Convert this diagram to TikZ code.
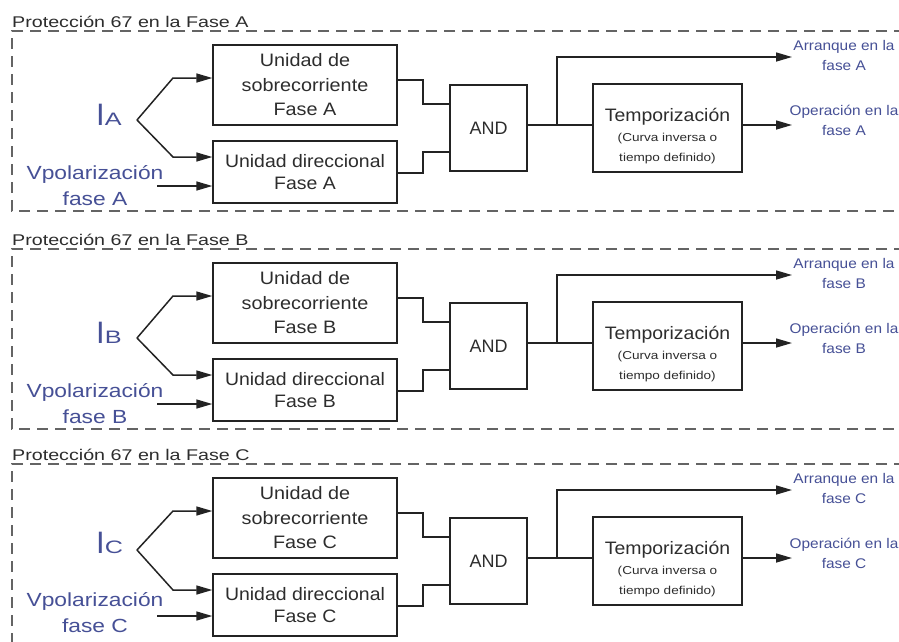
\documentclass[tikz,border=0pt]{standalone}
\usepackage{fontspec}
\setmainfont{Liberation Sans}
\usepackage{graphicx}
\usetikzlibrary{arrows.meta}
\definecolor{bluetxt}{RGB}{70,80,150}
\definecolor{linec}{RGB}{35,35,35}
\definecolor{txtc}{RGB}{45,45,45}
\definecolor{dashc}{RGB}{100,100,100}
\newcommand{\fs}[2]{\fontsize{#1}{#2}\selectfont}
\newcommand{\sx}[2]{\scalebox{#1}[1]{#2}}
\tikzset{
  blockbox/.style={draw=linec, line width=1.4pt, fill=white, inner sep=0pt, align=center, text=txtc},
  wire/.style={draw=linec, line width=1.5pt},
  arrowline/.style={wire, -{Triangle[length=16pt,width=9pt]}},
  framebox/.style={draw=dashc, line width=1.2pt, dash pattern=on 11pt off 7pt},
  outlbl/.style={align=center, text=bluetxt, inner sep=0pt, font=\fs{14}{20}},
}
\begin{document}
\begin{tikzpicture}[x=1pt,y=-1pt]
\useasboundingbox (0,0) rectangle (899,641);
\fill[white] (0,0) rectangle (899,641);
\clip (0,0) rectangle (899,641);
\foreach \L/\d/\e in {A/0/0,B/218/0,C/433/-6}{
\begin{scope}[yshift={-\d pt}]
  \draw[framebox] (905,31) -- (12,31) -- (12,211) -- (905,211);
  \node[anchor=base west, inner sep=0pt, text=txtc, font=\fs{15.5}{16}] (tit\L) at (12,27) {\sx{1.27}{Protección 67 en la Fase \L}};
  \node[blockbox, minimum width=184pt, minimum height=80pt, font=\fs{18}{24.5}] (sob\L) at (305,85)
     {\sx{1.1}{Unidad de}\\\sx{1.1}{sobrecorriente}\\\sx{1.1}{Fase \L}};
  \node[blockbox, minimum width=184pt, minimum height=62pt, font=\fs{18}{22}] (dir\L) at (305,172)
     {\sx{1.08}{Unidad direccional}\\\sx{1.08}{Fase \L}};
  \node[blockbox, minimum width=77pt, minimum height=86pt, font=\fs{18}{22}] (and\L) at (488.5,128) {AND};
  \node[blockbox, minimum width=149pt, minimum height=88pt, font=\fs{11}{20}] (tem\L) at (667.5,128)
     {\rule{0pt}{29pt}\fs{18}{20}\sx{1.08}{Temporización}\\\fs{11.5}{20}\sx{1.18}{(Curva inversa o}\\\fs{11.5}{20}\sx{1.18}{tiempo definido)}};
  \node[anchor=base west, inner sep=0pt, text=bluetxt] (I\L) at (96,{125+\e*0.7}) {\fs{31}{31}I\fs{18}{18}\sx{1.4}{\L}};
  \node[align=center, inner sep=0pt, text=bluetxt, font=\fs{19}{26}] (vp\L) at (95,{186+\e}) {\sx{1.2}{Vpolarización}\\\sx{1.2}{fase \L}};
  \node[outlbl] (ar\L) at (844,55) {\sx{1.1}{Arranque en la}\\\sx{1.1}{fase \L}};
  \node[outlbl] (op\L) at (844,120.5) {\sx{1.1}{Operación en la}\\\sx{1.1}{fase \L}};
  \coordinate (fk\L) at (137,{120+\e*0.5});
  \coordinate (ku\L) at (173,78);
  \coordinate (kd\L) at (173,157);
  \coordinate (vs\L) at (157,{186+\e*0.5});
  \coordinate (so\L) at (423,80);
  \coordinate (si\L) at (423,104);
  \coordinate (do\L) at (423,173);
  \coordinate (di\L) at (423,152);
  \coordinate (j\L) at (557,125);
  \coordinate (ju\L) at (557,57);
  \coordinate (ue\L) at (792,57);
  \coordinate (oe\L) at (792,125);
  \draw[arrowline] (fk\L) -- (ku\L) -- (ku\L -| sob\L.west);
  \draw[arrowline] (fk\L) -- (kd\L) -- (kd\L -| dir\L.west);
  \draw[arrowline] (vs\L) -- (vs\L -| dir\L.west);
  \draw[wire] (sob\L.east |- so\L) -- (so\L) -- (si\L) -- (si\L -| and\L.west);
  \draw[wire] (dir\L.east |- do\L) -- (do\L) -- (di\L) -- (di\L -| and\L.west);
  \draw[wire] (and\L.east |- j\L) -- (j\L -| tem\L.west);
  \draw[arrowline] (j\L) -- (ju\L) -- (ue\L);
  \draw[arrowline] (tem\L.east |- j\L) -- (oe\L);
\end{scope}
}
\end{tikzpicture}
\end{document}
